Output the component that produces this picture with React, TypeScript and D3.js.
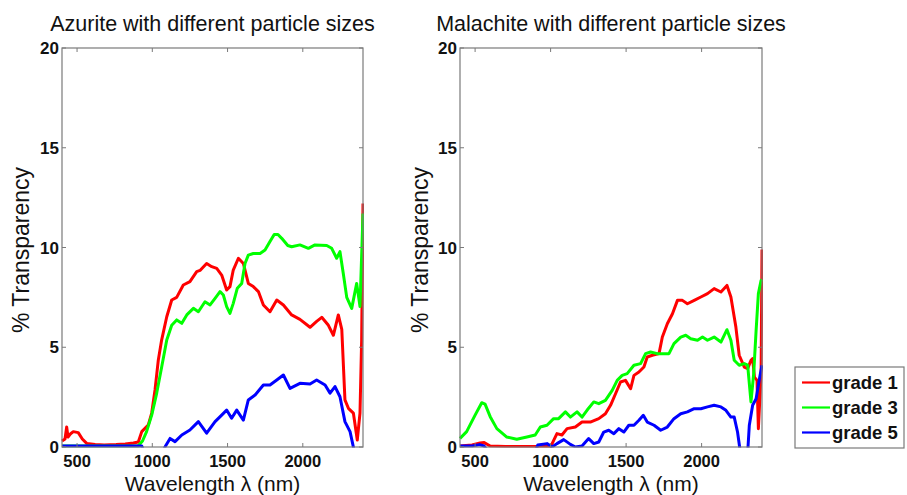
import React from "react";
import * as d3 from "d3";

type Pt = [number, number];

const xTicks = [500, 1000, 1500, 2000];
const yTicks = [0, 5, 10, 15, 20];
const xDomain: Pt = [400, 2400];
const yDomain: Pt = [0, 20];

const titles = ["Azurite with different particle sizes", "Malachite with different particle sizes"];
const xLabel = "Wavelength \u03bb (nm)";
const yLabel = "% Transparency";
const legendLabels = ["grade 1", "grade 3", "grade 5"];
const seriesColors = ["#ff0000", "#00ff00", "#0000ff"];

// Azurite (left panel)
const azuriteGrade1: Pt[] = [
  [400, 0.3], [420, 0.4], [431, 1.0], [440, 0.5], [455, 0.65], [475, 0.77], [508, 0.72], [535, 0.4], [564, 0.18],
  [620, 0.12], [680, 0.1], [760, 0.12], [820, 0.15], [874, 0.2], [907, 0.25], [930, 0.77], [973, 1.1],
  [996, 1.7], [1018, 2.86], [1040, 4.36], [1062, 5.36], [1096, 6.53], [1129, 7.37], [1162, 7.5],
  [1206, 8.12], [1250, 8.29], [1295, 8.79], [1317, 8.85], [1361, 9.2], [1395, 9.04], [1428, 8.95],
  [1461, 8.62], [1494, 7.87], [1516, 8.04], [1538, 8.87], [1572, 9.46], [1605, 9.2], [1638, 8.2],
  [1671, 8.04], [1705, 7.79], [1738, 7.12], [1782, 6.78], [1827, 7.37], [1871, 7.12], [1926, 6.62],
  [1981, 6.4], [2048, 6.0], [2092, 6.3], [2126, 6.5], [2170, 6.1], [2203, 5.6], [2236, 6.62],
  [2259, 5.9], [2280, 2.36], [2303, 1.94], [2336, 1.7], [2362, 0.35], [2380, 1.7], [2391, 5.36], [2400, 12.2],
];
const azuriteGrade3: Pt[] = [
  [400, 0.05], [600, 0.05], [800, 0.05], [905, 0.05], [935, 0.3], [962, 0.77], [996, 1.6], [1029, 2.69],
  [1062, 4.0], [1096, 5.36], [1129, 6.1], [1162, 6.37], [1196, 6.2], [1229, 6.62], [1273, 6.95],
  [1306, 6.78], [1350, 7.28], [1384, 7.12], [1417, 7.45], [1450, 7.79], [1472, 7.62], [1494, 7.04],
  [1516, 6.7], [1538, 7.2], [1565, 7.96], [1594, 8.2], [1616, 9.2], [1638, 9.62], [1671, 9.7],
  [1716, 9.7], [1749, 9.87], [1782, 10.3], [1810, 10.65], [1835, 10.65], [1860, 10.46], [1900, 10.1],
  [1926, 10.04], [1981, 10.13], [2037, 9.96], [2081, 10.13], [2159, 10.1], [2192, 9.96], [2225, 9.46],
  [2247, 9.79], [2269, 8.7], [2292, 7.5], [2325, 6.95], [2358, 8.2], [2380, 7.04], [2400, 11.7],
];
const azuriteGrade5: Pt[] = [
  [400, 0.05], [600, 0.05], [800, 0.05], [930, 0.05], [960, -0.5], [1050, -0.6], [1084, 0.0], [1118, 0.43],
  [1151, 0.27], [1196, 0.6], [1250, 0.85], [1306, 1.27], [1361, 0.69], [1417, 1.27], [1461, 1.6],
  [1494, 1.85], [1527, 1.44], [1561, 1.85], [1605, 1.35], [1638, 2.36], [1683, 2.61], [1738, 3.11],
  [1782, 3.11], [1827, 3.36], [1871, 3.61], [1915, 2.94], [1981, 3.19], [2048, 3.16], [2092, 3.36],
  [2148, 3.11], [2181, 2.7], [2214, 3.03], [2247, 2.52], [2280, 1.27], [2314, 0.77], [2336, 0.0],
  [2360, -1.0], [2400, -1.0],
];

// Malachite (right panel)
const malachiteGrade1: Pt[] = [
  [400, 0.05], [480, 0.1], [533, 0.2], [560, 0.22], [600, 0.05], [700, 0.03], [850, 0.02], [1000, 0.02],
  [1010, 0.17], [1042, 0.67], [1075, 0.6], [1109, 0.92], [1164, 1.0], [1208, 1.25], [1263, 1.25],
  [1319, 1.42], [1363, 1.67], [1397, 2.09], [1430, 2.67], [1463, 3.26], [1496, 3.34], [1530, 2.92],
  [1552, 3.59], [1585, 3.76], [1618, 4.01], [1640, 4.51], [1674, 4.6], [1718, 4.68], [1740, 5.51],
  [1773, 6.18], [1807, 6.68], [1840, 7.35], [1873, 7.35], [1906, 7.18], [1951, 7.35], [1995, 7.52],
  [2039, 7.69], [2083, 7.94], [2128, 7.77], [2168, 8.1], [2194, 7.52], [2227, 6.01], [2249, 4.6],
  [2283, 4.0], [2305, 3.93], [2327, 4.35], [2338, 4.43], [2350, 3.5], [2367, 3.34], [2376, 0.92],
  [2394, 3.7], [2400, 9.9],
];
const malachiteGrade3: Pt[] = [
  [400, 0.43], [444, 0.77], [500, 1.6], [544, 2.22], [566, 2.15], [600, 1.52], [644, 0.92], [710, 0.5],
  [776, 0.39], [843, 0.5], [898, 0.6], [932, 1.0], [976, 1.09], [1020, 1.42], [1053, 1.42], [1098, 1.76],
  [1131, 1.5], [1175, 1.76], [1208, 1.5], [1241, 1.84], [1286, 2.26], [1319, 2.17], [1363, 2.34],
  [1408, 2.84], [1441, 3.34], [1474, 3.59], [1507, 3.68], [1552, 4.1], [1596, 4.18], [1629, 4.68],
  [1662, 4.76], [1707, 4.68], [1751, 4.68], [1784, 4.68], [1817, 5.18], [1862, 5.51], [1895, 5.6],
  [1928, 5.43], [1973, 5.35], [2006, 5.51], [2039, 5.35], [2083, 5.51], [2128, 5.26], [2168, 5.88],
  [2194, 5.35], [2216, 4.35], [2249, 4.1], [2283, 4.18], [2305, 4.1], [2327, 2.26], [2345, 3.68],
  [2361, 5.85], [2376, 7.69], [2394, 8.35], [2400, 8.4],
];
const malachiteGrade5: Pt[] = [
  [400, 0.05], [480, 0.05], [530, 0.12], [560, 0.05], [600, -0.4], [750, -0.5], [900, -0.2], [915, 0.1],
  [976, 0.17], [1010, 0.0], [1042, 0.17], [1087, 0.37], [1131, 0.13], [1164, 0.0], [1208, 0.05],
  [1252, 0.42], [1286, 0.17], [1319, 0.25], [1352, 0.75], [1385, 0.84], [1419, 0.67], [1452, 0.92],
  [1485, 0.75], [1518, 1.09], [1552, 1.09], [1585, 1.34], [1614, 1.59], [1640, 1.25], [1685, 1.09],
  [1729, 0.84], [1773, 1.0], [1817, 1.42], [1862, 1.67], [1906, 1.76], [1951, 1.92], [1995, 1.92],
  [2039, 2.01], [2083, 2.09], [2128, 2.01], [2161, 1.84], [2194, 1.5], [2216, 1.5], [2238, 0.75],
  [2261, -0.5], [2290, -1.0], [2305, -0.3], [2316, 1.09], [2338, 2.09], [2361, 2.42], [2383, 3.42],
  [2400, 4.1],
];

const panels = [
  { title: titles[0], series: [azuriteGrade1, azuriteGrade3, azuriteGrade5], left: 62, right: 363, yLab: 29 },
  { title: titles[1], series: [malachiteGrade1, malachiteGrade3, malachiteGrade5], left: 460, right: 762, yLab: 428 },
];

const TOP = 48;
const BOTTOM = 447;
const FONT = "'Liberation Sans', Arial, Helvetica, sans-serif";
const AXIS = "#7a7a7a";

function Panel({ p, idx }: { p: typeof panels[number]; idx: number }) {
  const x = d3.scaleLinear().domain(xDomain).range([p.left, p.right]);
  const y = d3.scaleLinear().domain(yDomain).range([BOTTOM, TOP]);
  const line = d3
    .line<Pt>()
    .x((d) => x(d[0]))
    .y((d) => y(d[1]));
  const clipId = `clip${idx}`;
  const tl = 4;
  return (
    <g>
      <defs>
        <clipPath id={clipId}>
          <rect x={p.left - 1} y={TOP - 1} width={p.right - p.left + 2} height={BOTTOM - TOP + 1.5} />
        </clipPath>
      </defs>
      <text x={(p.left + p.right) / 2} y={31} textAnchor="middle" fontSize={21.5} fontFamily={FONT} fill="#111">
        {p.title}
      </text>
      <g clipPath={`url(#${clipId})`}>
        {p.series.map((s, i) => (
          <path key={i} d={line(s) || ""} fill="none" stroke={seriesColors[i]} strokeWidth={3} strokeLinejoin="round" />
        ))}
      </g>
      <rect x={p.left} y={TOP} width={p.right - p.left} height={BOTTOM - TOP} fill="none" stroke={AXIS} strokeWidth={1.2} />
      {xTicks.map((t) => (
        <g key={t}>
          <line x1={x(t)} x2={x(t)} y1={BOTTOM} y2={BOTTOM - tl} stroke={AXIS} />
          <line x1={x(t)} x2={x(t)} y1={TOP} y2={TOP + tl} stroke={AXIS} />
          <text x={x(t)} y={467} textAnchor="middle" fontSize={16.5} fontWeight="bold" fontFamily={FONT} fill="#111">
            {t}
          </text>
        </g>
      ))}
      {yTicks.map((t) => (
        <g key={t}>
          <line x1={p.left} x2={p.left + tl} y1={y(t)} y2={y(t)} stroke={AXIS} />
          <line x1={p.right} x2={p.right - tl} y1={y(t)} y2={y(t)} stroke={AXIS} />
          <text x={p.left - 3} y={y(t)} dy="0.36em" textAnchor="end" fontSize={17} fontWeight="bold" fontFamily={FONT} fill="#111">
            {t}
          </text>
        </g>
      ))}
      <text x={(p.left + p.right) / 2} y={491} textAnchor="middle" fontSize={21} fontFamily={FONT} fill="#111">
        {xLabel}
      </text>
      <text
        transform={`translate(${p.yLab},${250}) rotate(-90)`}
        textAnchor="middle"
        fontSize={23}
        fontFamily={FONT}
        fill="#111"
      >
        {yLabel}
      </text>
    </g>
  );
}

export default function App() {
  const lx = 795;
  const ly = 367;
  const rows = [382.5, 407.5, 432.5];
  return (
    <svg width={907} height={495} style={{ position: "absolute", left: 0, top: 0, background: "#fff" }}>
      <rect width={907} height={495} fill="#fff" />
      {panels.map((p, i) => (
        <Panel key={i} p={p} idx={i} />
      ))}
      <rect x={lx} y={ly} width={109} height={81} fill="#fff" stroke={AXIS} strokeWidth={1.2} />
      {legendLabels.map((l, i) => (
        <g key={l}>
          <line x1={802} x2={830} y1={rows[i]} y2={rows[i]} stroke={seriesColors[i]} strokeWidth={2.2} />
          <text x={832} y={rows[i]} dy="0.35em" fontSize={18.5} fontWeight="bold" fontFamily={FONT} fill="#111">
            {l}
          </text>
        </g>
      ))}
    </svg>
  );
}
